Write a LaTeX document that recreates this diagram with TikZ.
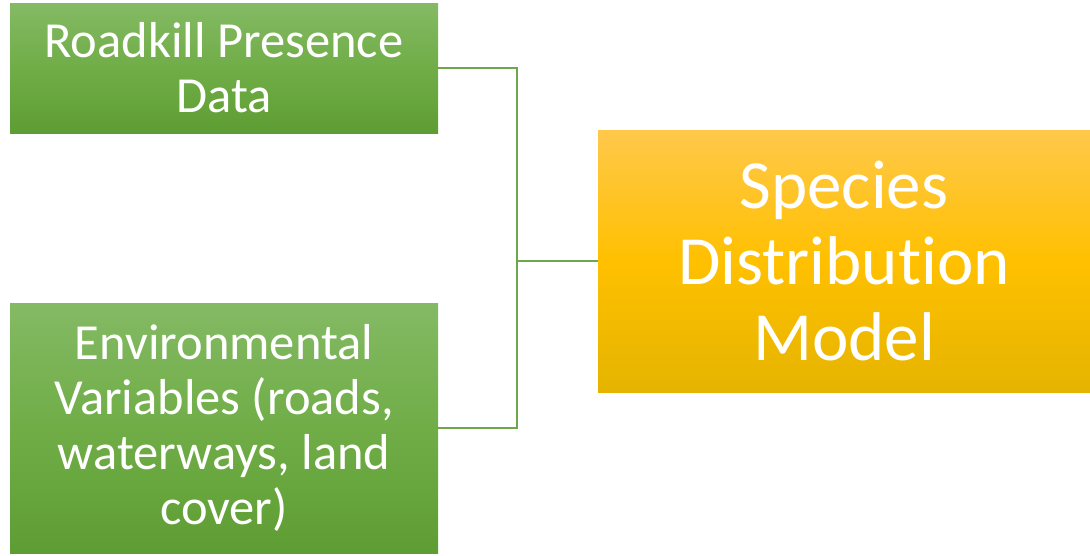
\documentclass[tikz,border=0pt]{standalone}
\usepackage{fontspec}
\setmainfont{Carlito}[Ligatures=NoCommon]
\usetikzlibrary{positioning}

\definecolor{leafTop}{HTML}{84BA64}
\definecolor{leafMid}{HTML}{70AD47}
\definecolor{leafBot}{HTML}{5E9D33}
\definecolor{sunTop}{HTML}{FFC84B}
\definecolor{sunMid}{HTML}{FFC000}
\definecolor{sunBot}{HTML}{E5B400}
\definecolor{linkGreen}{HTML}{6FA64A}

\begin{document}
\begin{tikzpicture}[x=1pt, y=-1pt,
  greenbox/.style={rectangle, inner sep=0pt, text=white, align=center,
    top color=leafTop, bottom color=leafBot, middle color=leafMid,
    font=\fontsize{50.5}{55}\selectfont},
  modelbox/.style={rectangle, inner sep=0pt, text=white, align=center,
    top color=sunTop, bottom color=sunBot, middle color=sunMid,
    font=\fontsize{69}{76}\selectfont},
  link/.style={draw=linkGreen, line width=1.3pt}]
\useasboundingbox (0,0) rectangle (1090,555);
% inputs
\node[greenbox, minimum width=428pt, minimum height=130pt] (roadkill) at (224,68) {Roadkill Presence\\Data};
\node[greenbox, minimum width=428pt, minimum height=250pt] (envvars) at (224,428) {Environmental\\Variables (roads,\\waterways, land\\cover)};
% model
\node[modelbox, minimum width=492pt, minimum height=262pt] (sdm) at (844,261) {Species\\Distribution\\Model};
% connector
\coordinate (junction) at (517,261);
\draw[link] (roadkill.east) -| (junction) |- (envvars.east);
\draw[link] (junction) -- (sdm.west);
\end{tikzpicture}
\end{document}
